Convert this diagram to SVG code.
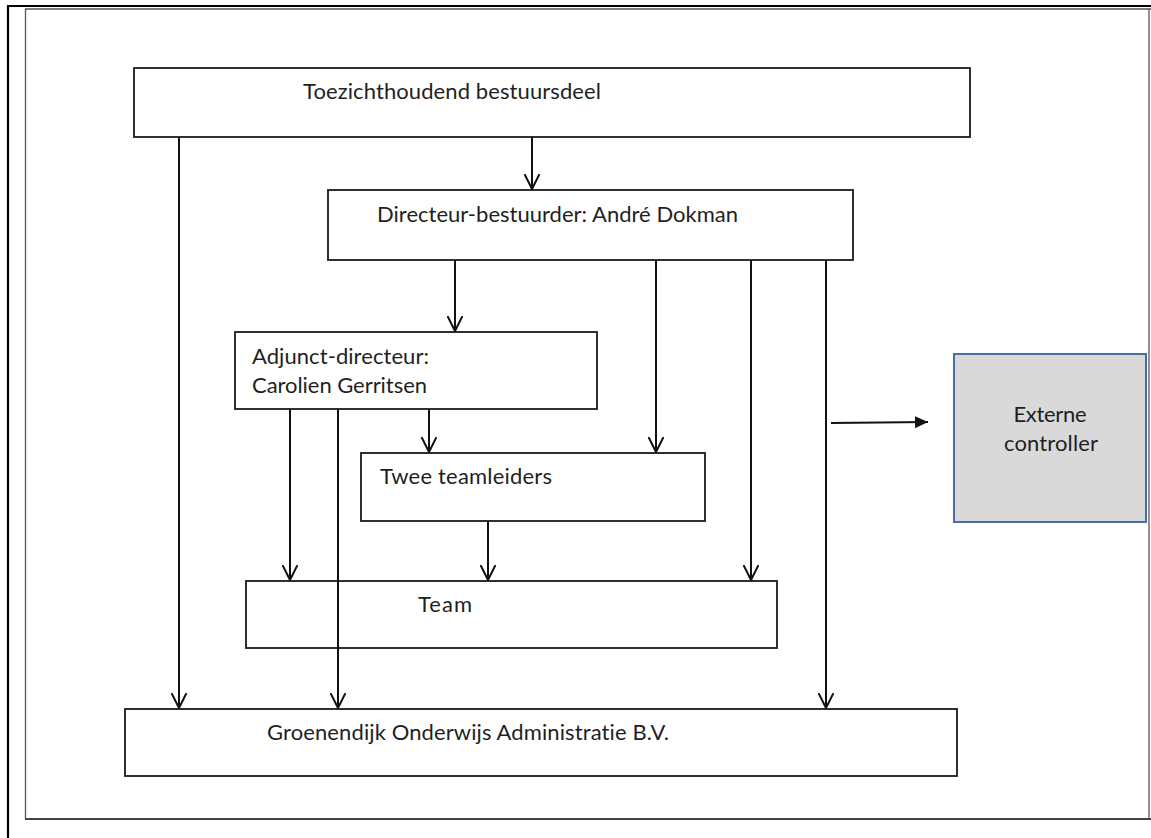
<svg xmlns="http://www.w3.org/2000/svg" width="1151" height="838" viewBox="0 0 1151 838">
<defs>
<style>
.box{fill:#fff;stroke:#1a1a1a;stroke-width:1.8}
.ext{fill:#d9d9d9;stroke:#4a6da7;stroke-width:2}
.t{font-family:Lato,"Open Sans","Liberation Sans",sans-serif;font-size:22px;fill:#1f1f1f;font-variant-ligatures:none}
.c{fill:none;stroke:#111;stroke-width:2}
</style>
<marker id="v" viewBox="0 0 16 16" refX="15" refY="8" markerWidth="16" markerHeight="16" markerUnits="userSpaceOnUse" orient="auto">
<path d="M0,0.5 L15,8 L0,15.5" fill="none" stroke="#111" stroke-width="2"/>
</marker>
<marker id="f" viewBox="0 0 14 14" refX="13" refY="7" markerWidth="14" markerHeight="14" markerUnits="userSpaceOnUse" orient="auto">
<path d="M0,1 L13,7 L0,13 Z" fill="#111"/>
</marker>
</defs>
<rect width="1151" height="838" fill="#fff"/>
<g id="frame">
<line x1="8" y1="6" x2="1151" y2="6" stroke="#000" stroke-width="2.2"/>
<line x1="8" y1="5" x2="8" y2="838" stroke="#000" stroke-width="2.2"/>
<line x1="25" y1="9" x2="1151" y2="9" stroke="#555" stroke-width="1.5"/>
<line x1="25.5" y1="9" x2="25.5" y2="819" stroke="#555" stroke-width="1.3"/>
<line x1="25" y1="819" x2="1151" y2="819" stroke="#444" stroke-width="1.8"/>
<line x1="1149" y1="9" x2="1149" y2="819" stroke="#555" stroke-width="1.3"/>
</g>
<g id="toezicht">
<rect class="box" x="134" y="68" width="836" height="69"/>
<text class="t" x="303" y="99" textLength="298">Toezichthoudend bestuursdeel</text>
</g>
<g id="directeur">
<rect class="box" x="328" y="190" width="525" height="70"/>
<text class="t" x="377" y="222" textLength="361">Directeur-bestuurder: André Dokman</text>
</g>
<g id="adjunct">
<rect class="box" x="235" y="332" width="362" height="77"/>
<text class="t" x="252" y="364" textLength="177">Adjunct-directeur:</text>
<text class="t" x="252" y="393" textLength="175">Carolien Gerritsen</text>
</g>
<g id="teamleiders">
<rect class="box" x="361" y="453" width="344" height="68"/>
<text class="t" x="380" y="484" textLength="172">Twee teamleiders</text>
</g>
<g id="team">
<rect class="box" x="246" y="581" width="531" height="67"/>
<text class="t" x="418" y="612" textLength="54">Team</text>
</g>
<g id="groenendijk">
<rect class="box" x="125" y="709" width="832" height="67"/>
<text class="t" x="267" y="740" textLength="402">Groenendijk Onderwijs Administratie B.V.</text>
</g>
<g id="externe">
<rect class="ext" x="954" y="354" width="192" height="168"/>
<text class="t" x="1050" y="422" text-anchor="middle" textLength="73">Externe</text>
<text class="t" x="1051" y="451" text-anchor="middle" textLength="94">controller</text>
</g>
<g id="connectors">
<line class="c" x1="179" y1="137" x2="179" y2="708" marker-end="url(#v)"/>
<line class="c" x1="532" y1="137" x2="532" y2="189" marker-end="url(#v)"/>
<line class="c" x1="455" y1="260" x2="455" y2="331" marker-end="url(#v)"/>
<line class="c" x1="656" y1="260" x2="656" y2="452" marker-end="url(#v)"/>
<line class="c" x1="751" y1="260" x2="751" y2="580" marker-end="url(#v)"/>
<line class="c" x1="826" y1="260" x2="826" y2="708" marker-end="url(#v)"/>
<line class="c" x1="290" y1="409" x2="290" y2="580" marker-end="url(#v)"/>
<line class="c" x1="338" y1="409" x2="338" y2="708" marker-end="url(#v)"/>
<line class="c" x1="429" y1="409" x2="429" y2="452" marker-end="url(#v)"/>
<line class="c" x1="488" y1="521" x2="488" y2="580" marker-end="url(#v)"/>
<line class="c" x1="831" y1="423" x2="928" y2="422" marker-end="url(#f)"/>
</g>
</svg>
